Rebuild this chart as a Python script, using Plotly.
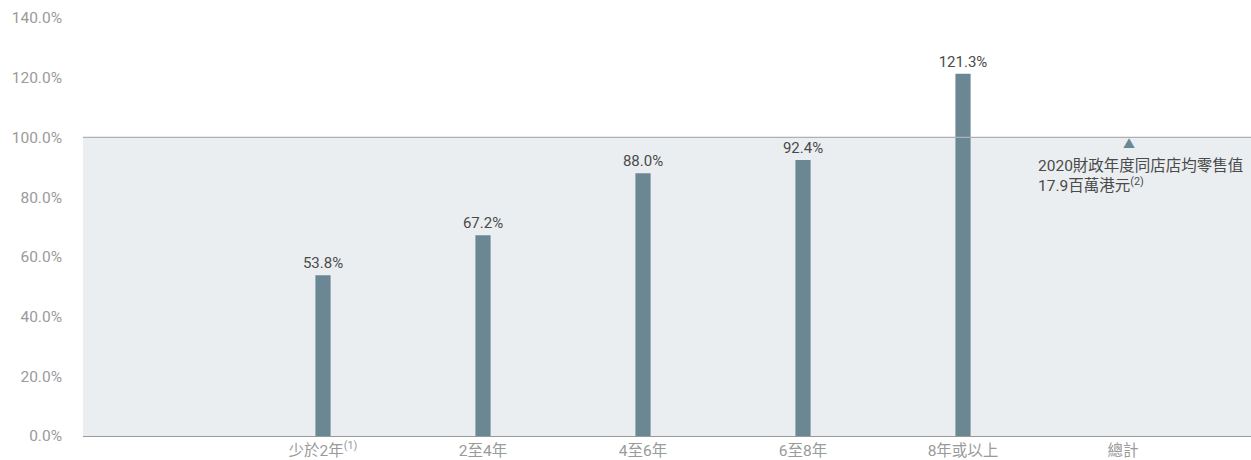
import plotly.graph_objects as go

categories = ["少於2年<sup>(1)</sup>", "2至4年", "4至6年", "6至8年", "8年或以上", "總計"]
bar_categories = categories[:5]
values = [53.8, 67.2, 88.0, 92.4, 121.3]
total_value = 100.0
total_note = "2020財政年度同店店均零售值<br>17.9百萬港元<sup>(2)</sup>"
y_ticks = [0, 20, 40, 60, 80, 100, 120, 140]
y_tick_labels = [f"{v:.1f}%" for v in y_ticks]

FONT = "Roboto, 'Noto Sans CJK TC', sans-serif"
BAR_COLOR = "#6b8794"
FS = 16

fig = go.Figure()
fig.add_trace(go.Bar(
    x=bar_categories, y=values,
    width=0.095,
    marker=dict(color=BAR_COLOR, line=dict(width=0)),
    text=[f"{v:.1f}%" for v in values],
    textposition="outside",
    constraintext="none",
    textfont=dict(color="#4a4a4a", size=FS - 1, family=FONT),
    cliponaxis=False,
    showlegend=False,
))

# shaded 100% reference band
fig.add_shape(type="rect", xref="paper", x0=0, x1=1, yref="y", y0=0, y1=total_value,
              fillcolor="#ebeef1", line=dict(width=0), layer="below")
fig.add_shape(type="line", xref="paper", x0=0, x1=1, yref="y", y0=total_value, y1=total_value,
              line=dict(color="#aeb1b4", width=1.2), layer="above")

fig.add_annotation(x=categories[5], y=total_value, text="▲", showarrow=False,
                   yanchor="top", yshift=1, xshift=6,
                   font=dict(color=BAR_COLOR, size=12, family=FONT))
fig.add_annotation(x=categories[5], y=total_value, text=total_note, showarrow=False,
                   xanchor="left", yanchor="top", xshift=-87, yshift=-18, align="left",
                   font=dict(color="#4a4a4a", size=FS - 0.5, family=FONT))

fig.update_layout(
    width=1251, height=460,
    margin=dict(l=83, r=0, t=18, b=24),
    plot_bgcolor="white", paper_bgcolor="white",
    font=dict(family=FONT),
    bargap=0.9,
)
fig.update_xaxes(
    type="category", categoryorder="array", categoryarray=categories,
    range=[-1.5, 5.8],
    showline=True, linecolor="#9a9a9a", linewidth=1,
    showgrid=False, ticks="",
    tickfont=dict(color="#9a9a9a", size=FS - 0.5, family=FONT),
)
fig.update_yaxes(
    range=[0, 140], tickvals=y_ticks, ticktext=y_tick_labels,
    showgrid=False, zeroline=False, showline=False, ticks="",
    ticklabelstandoff=20,
    tickfont=dict(color="#9a9a9a", size=FS - 0.5, family=FONT),
)

fig.write_html("out.html")
